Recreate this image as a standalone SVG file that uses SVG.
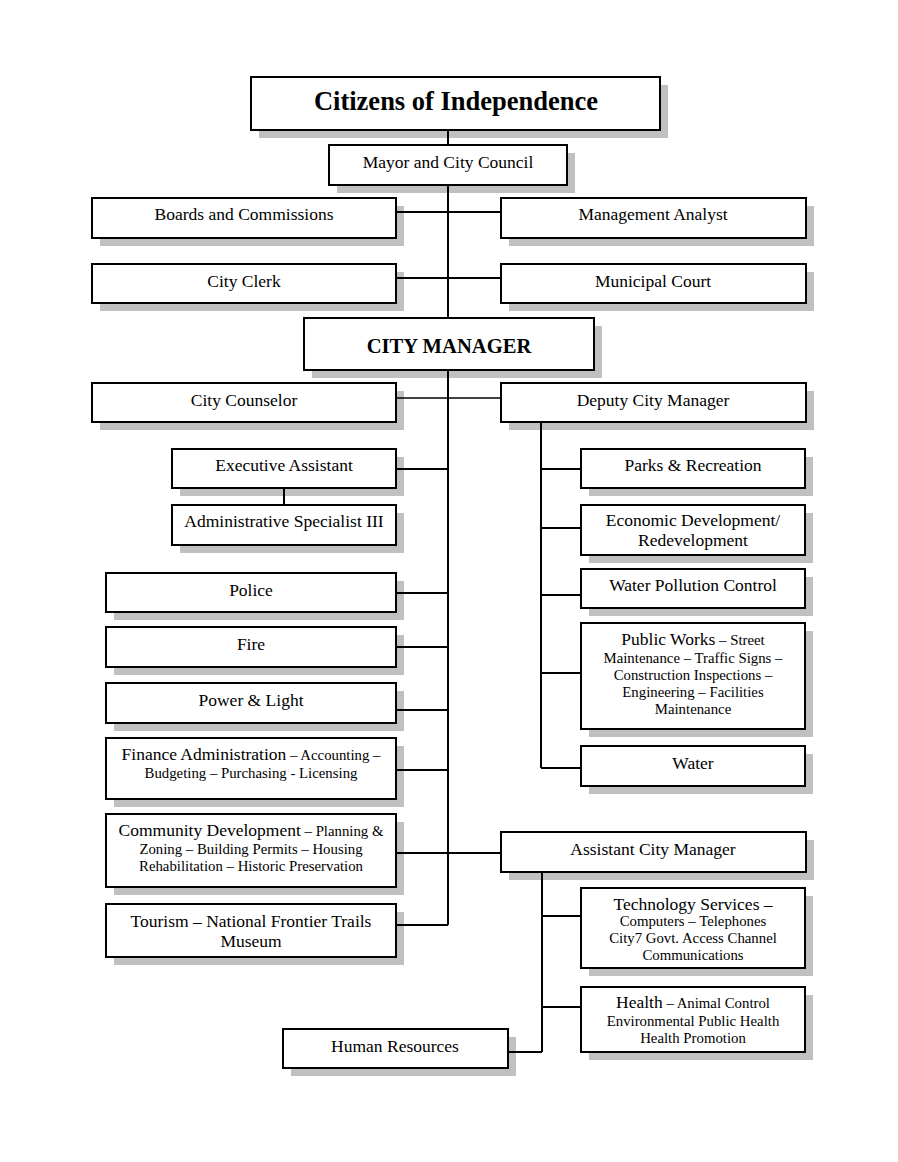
<svg xmlns="http://www.w3.org/2000/svg" width="898" height="1162" viewBox="0 0 898 1162">
<style>
.sh{fill:#c0c0c0}
.bx{fill:#fff;stroke:#000;stroke-width:2}
text{font-family:"Liberation Serif","Times New Roman",serif;fill:#000;text-anchor:middle}
.t{font-size:17.5px}
.s{font-size:14.8px}
.c{stroke:#000;stroke-width:2;fill:none}
.thin{stroke:#000;stroke-width:1.4;fill:none}
</style>
<rect width="898" height="1162" fill="#fff"/>
<g id="citizens"><rect class="sh" x="259" y="85" width="409" height="53"/><rect class="bx" x="251" y="77" width="409" height="53"/><text x="456" y="110" style="font-size:26.5px;font-weight:bold">Citizens of Independence</text></g>
<g id="mayor"><rect class="sh" x="337" y="153" width="238" height="40"/><rect class="bx" x="329" y="145" width="238" height="40"/><text class="t" x="448" y="168">Mayor and City Council</text></g>
<g id="boards"><rect class="sh" x="100" y="206" width="304" height="40"/><rect class="bx" x="92" y="198" width="304" height="40"/><text class="t" x="244" y="220">Boards and Commissions</text></g>
<g id="analyst"><rect class="sh" x="509" y="206" width="305" height="40"/><rect class="bx" x="501" y="198" width="305" height="40"/><text class="t" x="653" y="220">Management Analyst</text></g>
<g id="clerk"><rect class="sh" x="100" y="272" width="304" height="39"/><rect class="bx" x="92" y="264" width="304" height="39"/><text class="t" x="244" y="287">City Clerk</text></g>
<g id="court"><rect class="sh" x="509" y="272" width="305" height="39"/><rect class="bx" x="501" y="264" width="305" height="39"/><text class="t" x="653" y="287">Municipal Court</text></g>
<g id="manager"><rect class="sh" x="312" y="326" width="290" height="52"/><rect class="bx" x="304" y="318" width="290" height="52"/><text x="449" y="353" style="font-size:20.6px;font-weight:bold">CITY MANAGER</text></g>
<g id="counselor"><rect class="sh" x="100" y="391" width="304" height="39"/><rect class="bx" x="92" y="383" width="304" height="39"/><text class="t" x="244" y="406">City Counselor</text></g>
<g id="deputy"><rect class="sh" x="509" y="391" width="305" height="39"/><rect class="bx" x="501" y="383" width="305" height="39"/><text class="t" x="653" y="406">Deputy City Manager</text></g>
<g id="exec"><rect class="sh" x="180" y="457" width="224" height="39"/><rect class="bx" x="172" y="449" width="224" height="39"/><text class="t" x="284" y="471">Executive Assistant</text></g>
<g id="admin"><rect class="sh" x="180" y="513" width="224" height="40"/><rect class="bx" x="172" y="505" width="224" height="40"/><text class="t" x="284" y="527">Administrative Specialist III</text></g>
<g id="parks"><rect class="sh" x="589" y="457" width="224" height="39"/><rect class="bx" x="581" y="449" width="224" height="39"/><text class="t" x="693" y="471">Parks &amp; Recreation</text></g>
<g id="econ"><rect class="sh" x="589" y="513" width="224" height="50"/><rect class="bx" x="581" y="505" width="224" height="50"/><text class="t" x="693" y="526">Economic Development/</text><text class="t" x="693" y="546">Redevelopment</text></g>
<g id="wpc"><rect class="sh" x="589" y="577" width="224" height="39"/><rect class="bx" x="581" y="569" width="224" height="39"/><text class="t" x="693" y="591">Water Pollution Control</text></g>
<g id="publicworks"><rect class="sh" x="589" y="631" width="224" height="106"/><rect class="bx" x="581" y="623" width="224" height="106"/><text x="693" y="645"><tspan class="t">Public Works</tspan><tspan class="s"> – Street</tspan></text><text class="s" x="693" y="663">Maintenance – Traffic Signs –</text><text class="s" x="693" y="680">Construction Inspections –</text><text class="s" x="693" y="697">Engineering – Facilities</text><text class="s" x="693" y="714">Maintenance</text></g>
<g id="water"><rect class="sh" x="589" y="754" width="224" height="40"/><rect class="bx" x="581" y="746" width="224" height="40"/><text class="t" x="693" y="769">Water</text></g>
<g id="police"><rect class="sh" x="114" y="581" width="290" height="39"/><rect class="bx" x="106" y="573" width="290" height="39"/><text class="t" x="251" y="596">Police</text></g>
<g id="fire"><rect class="sh" x="114" y="635" width="290" height="40"/><rect class="bx" x="106" y="627" width="290" height="40"/><text class="t" x="251" y="650">Fire</text></g>
<g id="power"><rect class="sh" x="114" y="691" width="290" height="40"/><rect class="bx" x="106" y="683" width="290" height="40"/><text class="t" x="251" y="706">Power &amp; Light</text></g>
<g id="finance"><rect class="sh" x="114" y="746" width="290" height="61"/><rect class="bx" x="106" y="738" width="290" height="61"/><text x="251" y="760"><tspan class="t">Finance Administration</tspan><tspan class="s"> – Accounting –</tspan></text><text class="s" x="251" y="778">Budgeting – Purchasing - Licensing</text></g>
<g id="community"><rect class="sh" x="114" y="822" width="290" height="73"/><rect class="bx" x="106" y="814" width="290" height="73"/><text x="251" y="836"><tspan class="t">Community Development</tspan><tspan class="s"> – Planning &amp;</tspan></text><text class="s" x="251" y="854">Zoning – Building Permits – Housing</text><text class="s" x="251" y="871">Rehabilitation – Historic Preservation</text></g>
<g id="tourism"><rect class="sh" x="114" y="912" width="290" height="53"/><rect class="bx" x="106" y="904" width="290" height="53"/><text class="t" x="251" y="927">Tourism – National Frontier Trails</text><text class="t" x="251" y="947">Museum</text></g>
<g id="acm"><rect class="sh" x="509" y="840" width="305" height="40"/><rect class="bx" x="501" y="832" width="305" height="40"/><text class="t" x="653" y="855">Assistant City Manager</text></g>
<g id="tech"><rect class="sh" x="589" y="896" width="224" height="80"/><rect class="bx" x="581" y="888" width="224" height="80"/><text class="t" x="693" y="910">Technology Services –</text><text class="s" x="693" y="926">Computers – Telephones</text><text class="s" x="693" y="943">City7 Govt. Access Channel</text><text class="s" x="693" y="960">Communications</text></g>
<g id="health"><rect class="sh" x="589" y="995" width="224" height="65"/><rect class="bx" x="581" y="987" width="224" height="65"/><text x="693" y="1008"><tspan class="t">Health</tspan><tspan class="s"> – Animal Control</tspan></text><text class="s" x="693" y="1026">Environmental Public Health</text><text class="s" x="693" y="1043">Health Promotion</text></g>
<g id="hr"><rect class="sh" x="291" y="1037" width="225" height="39"/><rect class="bx" x="283" y="1029" width="225" height="39"/><text class="t" x="395" y="1052">Human Resources</text></g>
<g id="connectors">
<path class="c" d="M448 131V145M448 185V318M448 370V925"/>
<path class="c" d="M396 212H501M396 278H501"/>
<path class="thin" d="M396 398H501"/>
<path class="c" d="M396 469H448M284 488V505"/>
<path class="c" d="M541 422V768M541 469H581M541 528H581M541 595H581M541 673H581M541 768H581"/>
<path class="c" d="M396 593H448M396 647H448M396 710H448M396 770H448M396 853H501M396 925H448"/>
<path class="c" d="M542 872V1052M542 916H581M542 1007H581M508 1052H542"/>
</g>
</svg>
